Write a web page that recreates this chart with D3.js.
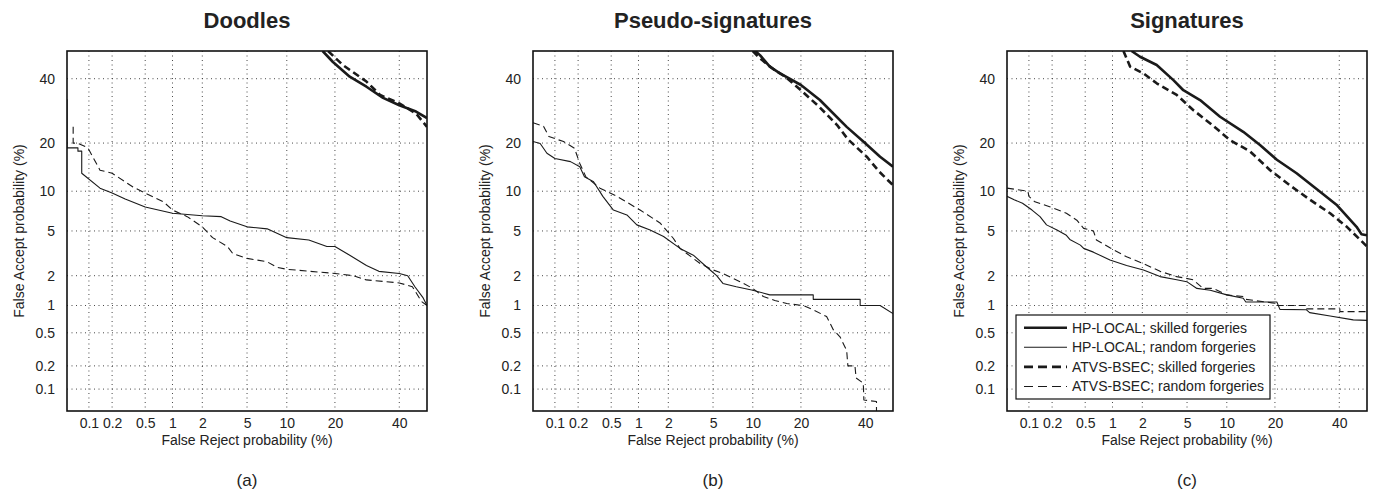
<!DOCTYPE html>
<html><head><meta charset="utf-8">
<script src="https://cdn.jsdelivr.net/npm/d3@7"></script>
<style>
body{margin:0;background:#fff;}
text{font-family:"Liberation Sans",Arial,sans-serif;}
</style></head>
<body><svg id="c" width="1373" height="492"></svg>
<script>
// ---- data (FR %, FA %) ----
const tickValuesPct = [0.1,0.2,0.5,1,2,5,10,20,40];
const tickLabels = ["0.1","0.2","0.5","1","2","5","10","20","40"];
const panelTitles = ["Doodles","Pseudo-signatures","Signatures"];
const panelLetters = ["(a)","(b)","(c)"];
const seriesNames = ["HP-LOCAL; skilled forgeries","HP-LOCAL; random forgeries","ATVS-BSEC; skilled forgeries","ATVS-BSEC; random forgeries"];

const doodlesHpSkilled = [[17,50],[19.5,46],[24,40.7],[29,37.2],[34.4,33.4],[40,31],[46,29],[50,27]];
const doodlesHpRandom = [[0.05,33],[0.05,18.8],[0.071,18.8],[0.071,18],[0.08,18],[0.08,13.2],[0.14,10.5],[0.2,9.7],[0.29,8.8],[0.5,7.7],[1,6.9],[2,6.6],[3,6.5],[3.6,6],[5,5.4],[7.2,5.2],[10,4.4],[14,4.2],[18,3.7],[20,3.7],[24,3.1],[29,2.5],[33,2.2],[40,2.1],[43,2],[45.6,1.56],[48.6,1.2],[50,1]];
const doodlesAtvsSkilled = [[18.3,50],[22,45],[29,39],[33.4,34.4],[40,31.6],[46,28.4],[50,24.4]];
const doodlesAtvsRandom = [[0.061,24.4],[0.061,20],[0.07,20],[0.097,18.8],[0.14,13.8],[0.2,13.2],[0.36,10.7],[0.5,9.7],[0.8,8.4],[1,7.3],[1.42,6.5],[2,5.4],[2.5,4.4],[3.4,3.7],[3.8,3.2],[5,2.9],[7.2,2.7],[8.5,2.4],[10,2.3],[20,2.1],[25,2],[29,1.82],[40,1.7],[44.7,1.56],[48,1.1],[50,1]];

const pseudoHpSkilled = [[10.4,50],[11.2,48.5],[13,44.3],[15,42],[20,37.8],[25.2,32.7],[33.6,24.4],[39.3,20.4],[45.3,16.7],[50,14.5]];
const pseudoHpRandom = [[0.05,20.4],[0.063,19.9],[0.078,17.5],[0.1,16.3],[0.16,15.6],[0.21,14.5],[0.24,12.5],[0.31,11.6],[0.4,9.2],[0.53,7.3],[0.75,6.7],[0.96,5.6],[1.32,5.1],[1.8,4.5],[2.58,3.56],[3.4,3.1],[4.4,2.43],[5.35,2],[6,1.68],[7.6,1.56],[10,1.44],[13,1.29],[23.3,1.29],[23.3,1.16],[38.2,1.16],[38.2,1],[45.3,1],[50,0.82]];
const pseudoAtvsSkilled = [[10,50],[11.2,47.3],[14,43],[16,41],[20,36],[25,30.5],[30.4,25],[34,21],[40.5,16.7],[45,13.5],[50,11]];
const pseudoAtvsRandom = [[0.05,25.6],[0.07,24.6],[0.083,21.7],[0.13,20.4],[0.18,18.7],[0.21,15.2],[0.25,12.5],[0.37,10.5],[0.58,9.2],[1.04,7.3],[1.66,5.8],[2.23,4.35],[2.58,3.56],[3.9,2.6],[5,2.27],[6,2.1],[8.1,1.75],[10,1.5],[11.8,1.24],[14,1.13],[16.6,1.05],[20.6,1],[23.3,0.9],[27.2,0.76],[29.3,0.54],[31.4,0.45],[33.6,0.31],[34,0.2],[36.4,0.2],[36.8,0.14],[39.3,0.12],[39.5,0.071],[44,0.068],[44,0.04]];

const sigHpSkilled = [[1.57,50],[1.9,47.9],[2.73,44.9],[3.84,39.5],[4.66,36],[6.35,32.7],[8.96,27.4],[12.9,23],[16.4,19.5],[20.5,16],[26,13.2],[33.4,9.9],[39,8],[46.2,5.4],[48,4.7],[50,4.6]];
const sigHpRandom = [[0.05,9.2],[0.063,8.7],[0.082,8.2],[0.11,7.3],[0.14,6.5],[0.17,5.6],[0.23,5.1],[0.3,4.6],[0.33,4.25],[0.44,3.8],[0.48,3.56],[0.62,3.3],[0.94,2.8],[1.4,2.5],[2.05,2.27],[2.93,1.96],[4.1,1.83],[4.97,1.75],[6,1.5],[7.6,1.44],[10,1.29],[12.9,1.19],[13.4,1.09],[20.5,1.09],[21.3,0.91],[29,0.9],[30,0.84],[36.8,0.77],[45,0.7],[50,0.69]];
const sigAtvsSkilled = [[1.3,50],[1.52,44.3],[2.05,41.9],[2.73,38.4],[4.1,34.4],[5.6,29.5],[7.6,25.4],[10.5,20.8],[14.3,17.9],[18.8,13.8],[24,11],[30.1,8.7],[36.8,6.9],[42.7,5.4],[50,3.7]];
const sigAtvsRandom = [[0.05,10.5],[0.097,10],[0.1,9.2],[0.12,8.4],[0.19,7.7],[0.3,6.9],[0.4,6.1],[0.48,5.25],[0.62,5],[0.67,4.2],[0.94,3.6],[1.4,3],[2.05,2.6],[2.93,2.2],[4.1,1.96],[5.6,1.83],[6.7,1.5],[8,1.5],[10,1.29],[12.9,1.24],[13.4,1.16],[20.5,1.05],[20.5,1],[29,1],[29,0.92],[40.2,0.92],[40.2,0.86],[50,0.86]];

const panels = [
  [doodlesHpSkilled, doodlesHpRandom, doodlesAtvsSkilled, doodlesAtvsRandom],
  [pseudoHpSkilled, pseudoHpRandom, pseudoAtvsSkilled, pseudoAtvsRandom],
  [sigHpSkilled, sigHpRandom, sigAtvsSkilled, sigAtvsRandom]
];

// ---- probit (Acklam) ----
function probit(p){
  const a=[-3.969683028665376e+01,2.209460984245205e+02,-2.759285104469687e+02,1.383577518672690e+02,-3.066479806614716e+01,2.506628277459239e+00];
  const b=[-5.447609879822406e+01,1.615858368580409e+02,-1.556989798598866e+02,6.680131188771972e+01,-1.328068155288572e+01];
  const c=[-7.784894002430293e-03,-3.223964580411365e-01,-2.400758277161838e+00,-2.549732539343734e+00,4.374664141464968e+00,2.938163982698783e+00];
  const d=[7.784695709041462e-03,3.224671290700398e-01,2.445134137142996e+00,3.754408661907416e+00];
  const pl=0.02425, ph=1-pl; let q,r;
  if(p<pl){q=Math.sqrt(-2*Math.log(p));return (((((c[0]*q+c[1])*q+c[2])*q+c[3])*q+c[4])*q+c[5])/((((d[0]*q+d[1])*q+d[2])*q+d[3])*q+1);}
  if(p<=ph){q=p-0.5;r=q*q;return (((((a[0]*r+a[1])*r+a[2])*r+a[3])*r+a[4])*r+a[5])*q/(((((b[0]*r+b[1])*r+b[2])*r+b[3])*r+b[4])*r+1);}
  q=Math.sqrt(-2*Math.log(1-p));return -(((((c[0]*q+c[1])*q+c[2])*q+c[3])*q+c[4])*q+c[5])/((((d[0]*q+d[1])*q+d[2])*q+d[3])*q+1);
}
const pz = v => probit(v/100);

const svg = d3.select("#c");
const lefts = [67, 533, 1007];
const W = 360, H = 360, TOP = 51;
const styles = [
  {w:2.6, dash:null},
  {w:1.1, dash:null},
  {w:2.6, dash:"7,4"},
  {w:1.1, dash:"7,4"}
];
const ink = "#1a1a1a";

panels.forEach((series, i) => {
  const L = lefts[i];
  const g = svg.append("g").attr("transform", `translate(${L},${TOP})`);
  const x = d3.scaleLinear().domain([pz(0.05), pz(50)]).range([0, W]);
  const y = d3.scaleLinear().domain([pz(0.05), pz(50)]).range([H, 0]);

  g.append("clipPath").attr("id","clip"+i).append("rect").attr("width",W).attr("height",H);

  // grid
  const grid = g.append("g").attr("stroke","#333").attr("stroke-width",0.9).attr("stroke-dasharray","1,3.5");
  tickValuesPct.forEach(t => {
    grid.append("line").attr("x1",x(pz(t))).attr("x2",x(pz(t))).attr("y1",0).attr("y2",H);
    grid.append("line").attr("y1",y(pz(t))).attr("y2",y(pz(t))).attr("x1",0).attr("x2",W);
  });

  // axes
  const xa = d3.axisBottom(x).tickValues(tickValuesPct.map(pz)).tickFormat((d,k)=>tickLabels[k]).tickSize(0).tickPadding(7);
  const ya = d3.axisLeft(y).tickValues(tickValuesPct.map(pz)).tickFormat((d,k)=>tickLabels[k]).tickSize(0).tickPadding(12);
  const gx = g.append("g").attr("transform",`translate(0,${H})`).call(xa);
  const gy = g.append("g").call(ya);
  [gx,gy].forEach(a=>{a.select(".domain").remove(); a.selectAll("text").attr("font-size",14).attr("fill","#222").attr("font-family","Liberation Sans, Arial, sans-serif");});

  // curves
  const line = d3.line().x(d=>x(pz(d[0]))).y(d=>y(pz(d[1])));
  const cg = g.append("g").attr("clip-path",`url(#clip${i})`);
  series.forEach((s,k)=>{
    cg.append("path").attr("d",line(s)).attr("fill","none").attr("stroke",ink)
      .attr("stroke-width",styles[k].w).attr("stroke-dasharray",styles[k].dash)
      .attr("stroke-linejoin","round");
  });

  // frame
  g.append("rect").attr("width",W).attr("height",H).attr("fill","none").attr("stroke","#111").attr("stroke-width",1.6);

  // labels
  svg.append("text").attr("x",L+W/2).attr("y",28).attr("text-anchor","middle").attr("font-size",22).attr("font-weight","bold").attr("fill","#222").text(panelTitles[i]);
  svg.append("text").attr("x",L+W/2).attr("y",445).attr("text-anchor","middle").attr("font-size",14).attr("fill","#222").text("False Reject probability (%)");
  svg.append("text").attr("transform",`translate(${L-43},${TOP+H/2}) rotate(-90)`).attr("text-anchor","middle").attr("font-size",14).attr("fill","#222").text("False Accept probability (%)");
  svg.append("text").attr("x",L+W/2).attr("y",486).attr("text-anchor","middle").attr("font-size",17).attr("fill","#222").text(panelLetters[i]);
});

// legend in panel (c)
const lg = svg.append("g");
lg.append("rect").attr("x",1016).attr("y",315).attr("width",254).attr("height",84).attr("fill","#fff").attr("stroke","#111").attr("stroke-width",1.2);
seriesNames.forEach((n,k)=>{
  const yy = 327.7 + k*19.6;
  lg.append("line").attr("x1",1024).attr("x2",1067).attr("y1",yy).attr("y2",yy).attr("stroke",ink)
    .attr("stroke-width",styles[k].w).attr("stroke-dasharray",styles[k].dash ? "9,5" : null);
  lg.append("text").attr("x",1072).attr("y",yy).attr("dy","0.35em").attr("font-size",14).attr("fill","#222").text(n);
});
</script></body></html>
